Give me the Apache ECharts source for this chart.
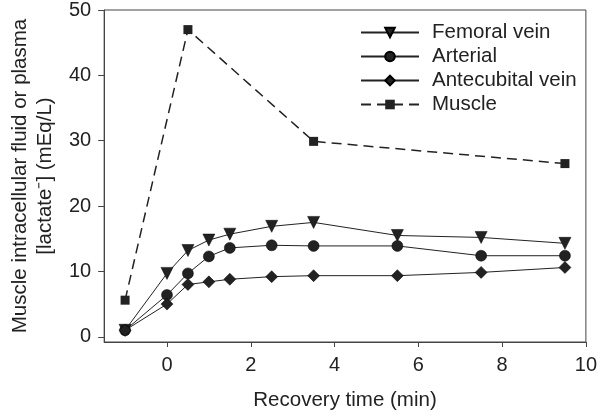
<!DOCTYPE html>
<html><head><meta charset="utf-8">
<script src="https://cdn.jsdelivr.net/npm/echarts@6/dist/echarts.min.js"></script>
<style>html,body{margin:0;padding:0;background:#fff}#c{width:600px;height:416px}</style>
</head><body><div id="c"></div>
<script>
const times = [-1, 0, 0.5, 1, 1.5, 2.5, 3.5, 5.5, 7.5, 9.5];
const femoral = [1.0, 9.7, 13.2, 14.8, 15.7, 16.9, 17.5, 15.5, 15.2, 14.3];
const arterial = [1.0, 6.4, 9.7, 12.3, 13.6, 14.0, 13.9, 13.9, 12.4, 12.4];
const antecubital = [1.0, 5.0, 8.0, 8.4, 8.8, 9.2, 9.35, 9.35, 9.85, 10.6];
const muscleTimes = [-1, 0.5, 3.5, 9.5];
const muscle = [5.6, 47.0, 29.9, 26.5];
const xTicks = [0, 2, 4, 6, 8, 10];
const yTicks = [0, 10, 20, 30, 40, 50];
const names = ['Femoral vein', 'Arterial', 'Antecubital vein', 'Muscle'];

const ink = '#222';
const font = 'Liberation Sans, Arial, Helvetica, sans-serif';
const fs = 20;
const fsName = 20.5;
function pairs(xs, ys){ return xs.map((x,i)=>[x, ys[i]]); }

const chart = echarts.init(document.getElementById('c'), null, {renderer:'canvas'});
const solid = (name, data, symbol, size, rot) => ({
  name, type:'line', data: pairs(times, data), symbol, symbolSize: size, symbolRotate: rot || 0,
  lineStyle:{color:ink, width:1}, itemStyle:{color:ink, borderColor:'#000', borderWidth:0.5},
  z: 3
});
chart.setOption({
  backgroundColor:'#fff',
  animation:false,
  grid:{left:96, right:11, top:8, bottom:63, show:true, borderColor:'#444', borderWidth:1, backgroundColor:'transparent'},
  legend:{
    left:360, top:22, padding:0, orient:'vertical', itemWidth:58, itemHeight:12, itemGap:3,
    data: names,
    textStyle:{fontFamily:font, fontSize:fsName, color:ink, lineHeight:20, padding:[0,0,0,8]},
    selectedMode:false
  },
  xAxis:{
    type:'value', min:-1.5, max:10,
    axisLine:{show:true, lineStyle:{color:'#444', width:1}, onZero:false},
    axisTick:{show:true, length:5, customValues:xTicks, lineStyle:{color:'#444'}},
    axisLabel:{customValues:xTicks, fontFamily:font, fontSize:fs, color:ink, margin:13},
    splitLine:{show:false},
    name:'Recovery time (min)', nameLocation:'middle', nameGap:48,
    nameTextStyle:{fontFamily:font, fontSize:fsName, color:ink}
  },
  yAxis:{
    type:'value', min:-0.8, max:50,
    axisLine:{show:true, lineStyle:{color:'#444', width:1}, onZero:false},
    axisTick:{show:true, length:6, customValues:yTicks, lineStyle:{color:'#444'}},
    axisLabel:{customValues:yTicks, fontFamily:font, fontSize:fs, color:ink, margin:13},
    splitLine:{show:false},
    name:'Muscle intracellular fluid or plasma\n[lactate\u207B] (mEq/L)', nameLocation:'middle', nameGap:46,
    nameTextStyle:{fontFamily:font, fontSize:fsName, color:ink, lineHeight:25}
  },
  series:[
    solid(names[0], femoral, 'triangle', 12, 180),
    solid(names[1], arterial, 'circle', 11),
    solid(names[2], antecubital, 'diamond', 12),
    {
      name: names[3], type:'line', data: pairs(muscleTimes, muscle), symbol:'rect', symbolSize:9,
      lineStyle:{color:ink, width:1.5, type:[10,6]}, itemStyle:{color:ink}, z:3
    }
  ]
});
</script>
</body></html>
